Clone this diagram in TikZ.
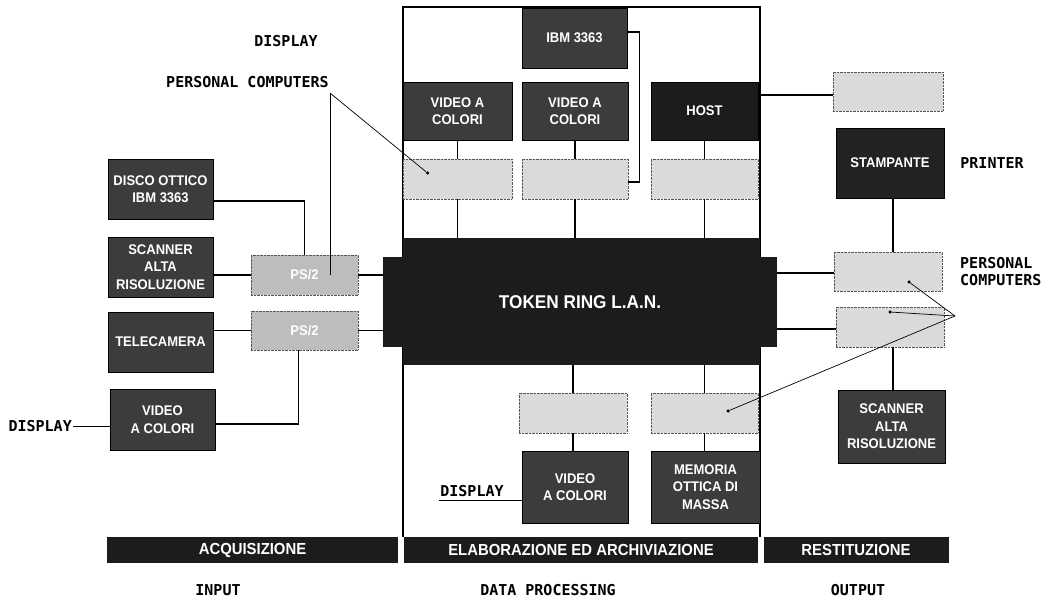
\documentclass[tikz,border=0pt]{standalone}
\usepackage{fontspec}
\newfontfamily\boxfont[FakeStretch=0.93]{Liberation Sans}
\newfontfamily\labelfont{DejaVu Sans Mono}
\usetikzlibrary{positioning}
\definecolor{BoxDark}{HTML}{3C3C3C}
\definecolor{BoxBlack}{HTML}{1C1C1C}
\definecolor{BoxLight}{HTML}{DADADA}
\definecolor{BoxMid}{HTML}{BDBDBD}
\definecolor{BoxEdge}{HTML}{555555}

\tikzset{
  boxsize/.style 2 args={minimum width=#1pt, minimum height=#2pt},
  darkbox/.style={draw=black, fill=BoxDark, text=white, inner sep=0pt, align=center,
    font=\boxfont\bfseries\fontsize{14}{17.5}\selectfont},
  lightbox/.style={draw=BoxEdge, densely dotted, fill=BoxLight, inner sep=0pt,
    text=white, font=\boxfont\bfseries\fontsize{14}{17}\selectfont},
  barbox/.style={fill=BoxBlack, text=white, inner sep=0pt,
    font=\boxfont\bfseries\fontsize{16}{17}\selectfont},
  caption/.style={font=\labelfont\bfseries\fontsize{15}{17}\selectfont, inner sep=1pt, align=left},
  wire/.style={line width=1.2pt},
  lead/.style={line width=0.7pt},
  pin/.style={circle, fill=black, inner sep=0pt, minimum size=3.5pt}
}

\begin{document}
\begin{tikzpicture}[x=1pt, y=-1pt]
  \useasboundingbox[fill=white] (0,0) rectangle (1048,608);

  % data processing frame
  \draw[line width=1.3pt] (403,537) -- (403,7) -- (760,7) -- (760,537);

  % token ring (cross shaped block)
  \node[fill=BoxBlack, boxsize={357}{127}, inner sep=0pt] (ringcore) at (581.5,301.5) {};
  \node[fill=BoxBlack, boxsize={394}{90}, inner sep=0pt, text=white,
    font=\boxfont\bfseries\fontsize{18.5}{20}\selectfont] (ring) at (580,302) {TOKEN RING L.A.N.};

  % input side
  \node[darkbox, boxsize={105}{60}] (disco) at (160.5,189) {DISCO OTTICO\\IBM 3363};
  \node[darkbox, boxsize={105}{60}] (scanL) at (160.5,267) {SCANNER\\ALTA\\RISOLUZIONE};
  \node[darkbox, boxsize={105}{60}] (tele) at (160.5,342) {TELECAMERA};
  \node[darkbox, boxsize={105}{61}] (videoL) at (162.5,419.5) {VIDEO\\A COLORI};
  \node[lightbox, fill=BoxMid, boxsize={107}{40}] (ps2a) at (304.5,275) {PS/2};
  \node[lightbox, fill=BoxMid, boxsize={107}{39}] (ps2b) at (304.5,330.5) {PS/2};

  % data processing, top
  \node[darkbox, boxsize={105}{60}] (ibm) at (574.5,38) {IBM 3363};
  \node[darkbox, boxsize={109}{58}] (video1) at (457.5,111) {VIDEO A\\COLORI};
  \node[darkbox, boxsize={106}{58}] (video2) at (575,111) {VIDEO A\\COLORI};
  \node[darkbox, fill=BoxBlack, boxsize={107}{58}] (host) at (704.5,111) {HOST};
  \node[lightbox, boxsize={109}{40}] (pc1) at (457.5,179) {};
  \node[lightbox, boxsize={106}{40}] (pc2) at (575,179) {};
  \node[lightbox, boxsize={107}{40}] (pc3) at (704.5,179) {};

  % data processing, bottom
  \node[lightbox, boxsize={108}{40}] (pc4) at (573,413) {};
  \node[lightbox, boxsize={107}{40}] (pc5) at (704.5,413) {};
  \node[darkbox, boxsize={106}{72}] (videoB) at (575,487) {VIDEO\\A COLORI};
  \node[darkbox, boxsize={109}{72}] (memoria) at (705.5,487) {MEMORIA\\OTTICA DI\\MASSA};

  % output side
  \node[lightbox, boxsize={110}{39}] (rpc0) at (888,91.5) {};
  \node[darkbox, fill=BoxBlack!80!BoxDark, boxsize={108}{70}] (stampante) at (890,163) {STAMPANTE};
  \node[lightbox, boxsize={108}{39}] (rpc1) at (888,271.5) {};
  \node[lightbox, boxsize={108}{40}] (rpc2) at (890,327) {};
  \node[darkbox, boxsize={107}{73}] (scanR) at (891.5,426.5) {SCANNER\\ALTA\\RISOLUZIONE};

  % bottom bars
  \node[barbox, boxsize={291}{26}] (acq) at (252.5,550) {ACQUISIZIONE};
  \node[barbox, boxsize={354}{26}] (elab) at (581,550) {ELABORAZIONE ED ARCHIVIAZIONE};
  \node[barbox, boxsize={185}{26}] (rest) at (856,550) {RESTITUZIONE};

  % captions
  \node[caption] (dispTop) at (286,41) {DISPLAY};
  \node[caption] (pcTop) at (247.5,82) {PERSONAL COMPUTERS};
  \node[caption, anchor=east] (dispL) at (73,426) {DISPLAY};
  \node[caption] (dispB) at (472,491) {DISPLAY};
  \node[caption, right=15pt of stampante] (printer) {PRINTER};
  \node[caption, anchor=west] (pcRight) at (959,272) {PERSONAL\\COMPUTERS};
  \node[caption] (input) at (218,590) {INPUT};
  \node[caption] (dataproc) at (548,590) {DATA PROCESSING};
  \node[caption] (output) at (858,590) {OUTPUT};

  % input wiring
  \coordinate (discoout) at ([yshift=-12pt]disco.east);
  \draw[wire] (discoout) -| (ps2a.north);
  \draw[wire] (ps2a.west -| scanL.east) -- (ps2a.west);
  \draw[wire] (ps2b.west -| tele.east) -- (ps2b.west);
  \coordinate (videoout) at ([yshift=-4.5pt]videoL.east);
  \draw[wire] (videoout) -| ([xshift=-6pt]ps2b.south);
  \draw[wire] (ps2a.east) -- (ps2a.east -| ring.west);
  \draw[wire] (ps2b.east) -- (ps2b.east -| ring.west);
  \draw[lead] (dispL.east) -- (dispL.east -| videoL.west);

  % data processing wiring
  \foreach \pc/\dev in {pc1/video1, pc2/video2, pc3/host} {
    \draw[wire] (\dev.south) -- (\pc.north);
    \draw[wire] (\pc.south) -- (\pc.south |- ringcore.north);
  }
  \foreach \pc/\dev in {pc4/videoB, pc5/memoria} {
    \draw[wire] (\pc.north |- ringcore.south) -- (\pc.north);
    \draw[wire] (\pc.south) -- (\pc.south |- \dev.north);
  }
  \coordinate (ibmout) at ([yshift=6pt]ibm.east);
  \coordinate (pc2in) at ([yshift=-3pt]pc2.east);
  \draw[wire] (ibmout) -- ++(12,0) |- (pc2in);

  % output wiring
  \coordinate (hostout) at ([yshift=16pt]host.east);
  \draw[wire] (hostout) -- (hostout -| rpc0.west);
  \coordinate (outbus) at (893,0);
  \draw[wire] (stampante.south -| outbus) -- (rpc1.north -| outbus);
  \draw[wire] (rpc2.south -| outbus) -- (scanR.north -| outbus);
  \coordinate (ringR1) at ([yshift=-1.5pt]rpc1.west);
  \coordinate (ringR2) at ([yshift=-2pt]rpc2.west);
  \draw[wire] (ringR1 -| ring.east) -- (ringR1);
  \draw[wire] (ringR2 -| ring.east) -- (ringR2);

  % leader lines, left
  \coordinate (pcTopFoot) at (330,93);
  \node[pin] (dotPc1) at ([xshift=-30pt, yshift=6pt]pc1.center) {};
  \draw[lead] (pcTopFoot) -- (dotPc1);
  \draw[lead] (pcTopFoot) -- (pcTopFoot |- ps2a.center);

  % leader lines, right
  \coordinate (pcRightFoot) at (955,316);
  \node[pin] (dotR1) at ([xshift=21pt, yshift=-10.5pt]rpc1.center) {};
  \node[pin] (dotR2) at ([yshift=15pt]rpc2.center) {};
  \node[pin] (dotPc5) at ([xshift=23.5pt, yshift=2pt]pc5.center) {};
  \draw[lead] (pcRightFoot) -- (dotR1);
  \draw[lead] (pcRightFoot) -- (dotR2);
  \draw[lead] (pcRightFoot) -- (dotPc5);

  % display underline
  \draw[lead] ([yshift=-2pt]dispB.south west) -- ([yshift=-2pt]dispB.south west -| videoB.west);
\end{tikzpicture}
\end{document}
